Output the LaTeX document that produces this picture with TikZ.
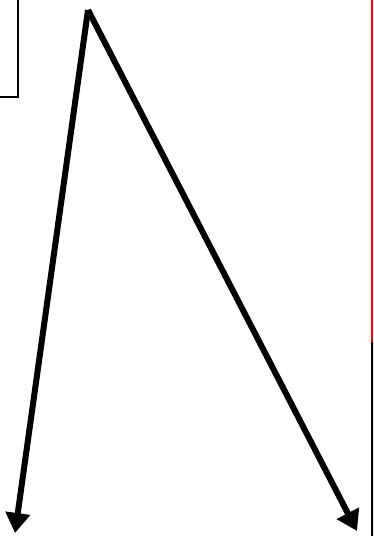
\documentclass[tikz,border=0pt]{standalone}
\usetikzlibrary{arrows.meta}

\begin{document}
\begin{tikzpicture}[x=1pt, y=1pt,
    stroke/.style = {line width=6pt, -{Triangle[width=24pt, length=20pt]}},
    frame/.style = {draw, line width=1.8pt, minimum width=40pt, minimum height=130pt, inner sep=0pt},
    >=Stealth]

    \useasboundingbox (0,0) rectangle (373,536);
    \clip (0,0) rectangle (373,536);
    \fill[white] (0,0) rectangle (373,536);

    \node[frame, anchor=south east] (box) at (18.5,438) {};

    \coordinate (apex) at (88,526);
    \coordinate (leftend) at (15,3);
    \coordinate (rightend) at (357,5);
    \coordinate (edgetop) at (372,536);
    \coordinate (edgemid) at (372,194);
    \coordinate (edgebot) at (372,0);

    \draw[stroke] (apex) -- (leftend);
    \draw[stroke] (apex) -- (rightend);
    \draw[red, line width=1.8pt] (edgetop) -- (edgemid);
    \draw[line width=3pt] (edgemid) -- (edgebot);

\end{tikzpicture}
\end{document}
